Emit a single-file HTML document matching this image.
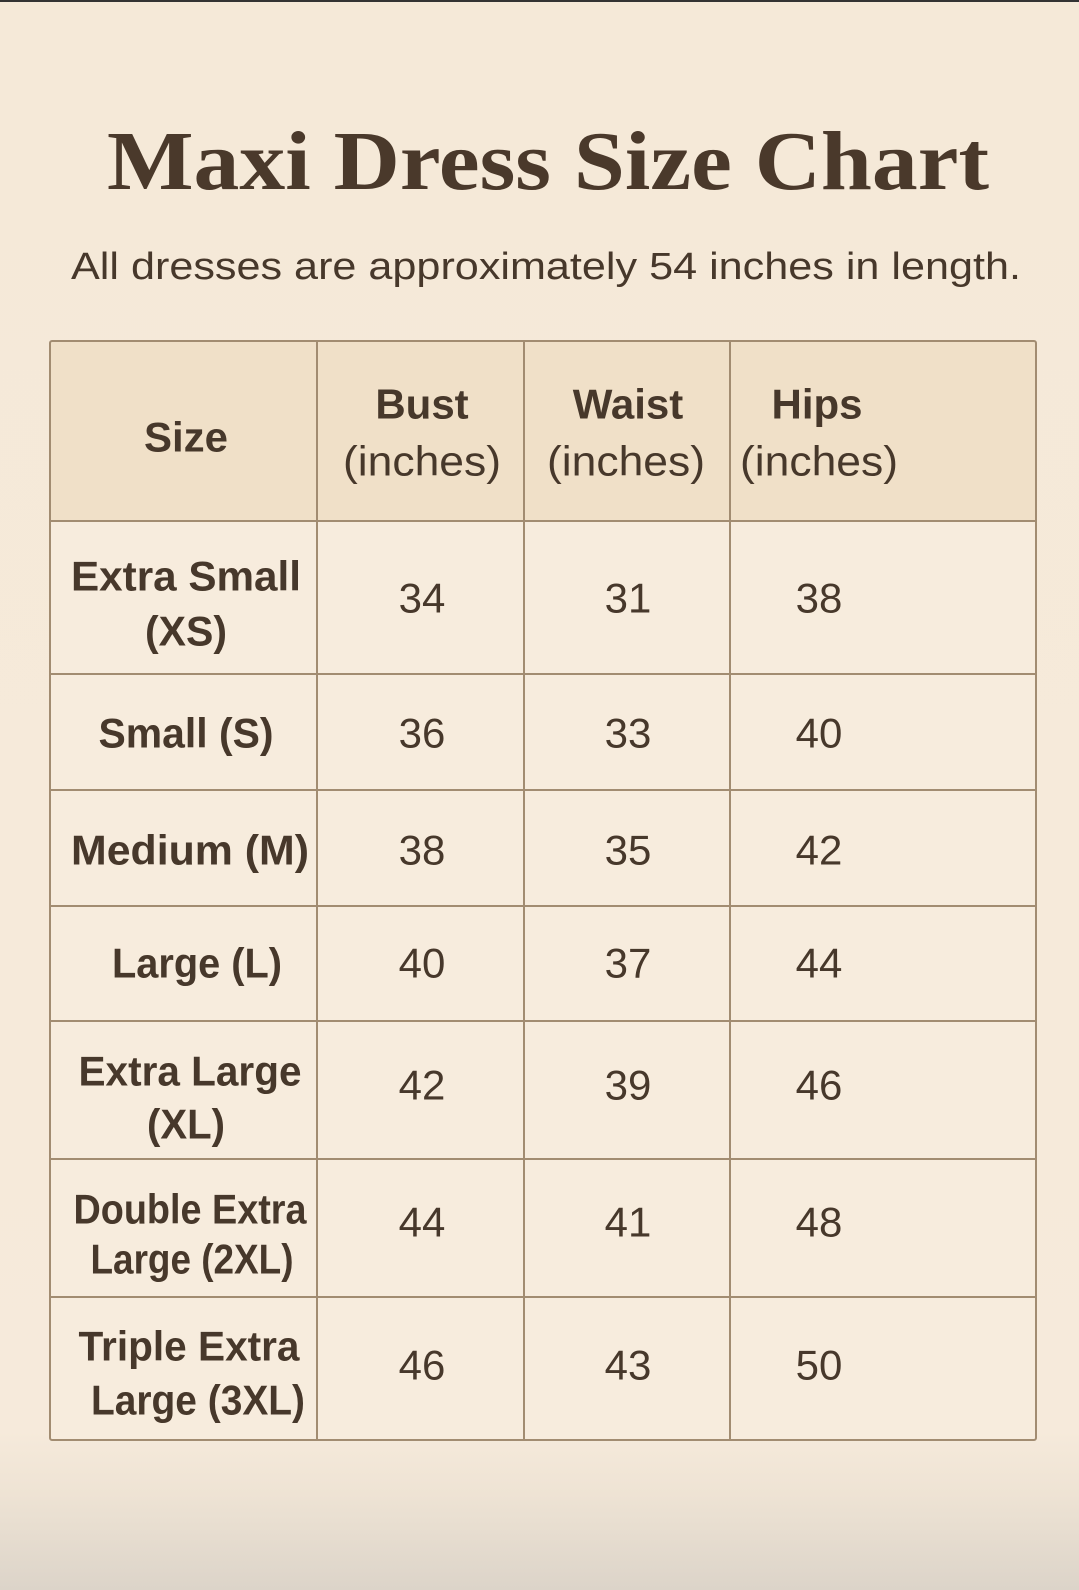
<!DOCTYPE html>
<html><head><meta charset="utf-8"><style>
html,body{margin:0;padding:0;width:1079px;height:1590px;overflow:hidden;background:#f6ead9}
svg{display:block}
.s{font-family:"Liberation Sans",sans-serif;fill:#47382b}
.b{font-weight:bold}
</style></head><body>
<svg width="1079" height="1590" viewBox="0 0 1079 1590">
<defs>
<linearGradient id="bg" x1="0" y1="0" x2="0" y2="1">
<stop offset="0" stop-color="#f5e9d8"/><stop offset="0.9" stop-color="#f6eadb"/><stop offset="0.94" stop-color="#eee3d4"/><stop offset="1" stop-color="#dcd4c9"/>
</linearGradient>
</defs>
<rect width="1079" height="1590" fill="url(#bg)"/>
<rect width="1079" height="2" fill="#333"/>
<text x="548" y="189" text-anchor="middle" font-family="Liberation Serif,serif" font-weight="bold" font-size="84" fill="#4a392b" textLength="882" lengthAdjust="spacingAndGlyphs">Maxi Dress Size Chart</text>
<text class="s" x="71" y="279" font-size="38" textLength="950" lengthAdjust="spacingAndGlyphs">All dresses are approximately 54 inches in length.</text>
<rect x="50" y="341" width="986" height="180" fill="#f0e0c8"/>
<rect x="50" y="521" width="986" height="919" fill="#f7ecdd"/>
<g stroke="#a28c71" stroke-width="2" fill="none">
<rect x="50" y="341" width="986" height="1099" rx="2"/>
<line x1="317" y1="341" x2="317" y2="1440"/>
<line x1="524" y1="341" x2="524" y2="1440"/>
<line x1="730" y1="341" x2="730" y2="1440"/>
<line x1="50" y1="521" x2="1036" y2="521"/>
<line x1="50" y1="674" x2="1036" y2="674"/>
<line x1="50" y1="790" x2="1036" y2="790"/>
<line x1="50" y1="906" x2="1036" y2="906"/>
<line x1="50" y1="1021" x2="1036" y2="1021"/>
<line x1="50" y1="1159" x2="1036" y2="1159"/>
<line x1="50" y1="1297" x2="1036" y2="1297"/>
</g>
<g class="s" font-size="42" text-anchor="middle" dominant-baseline="central">
<text class="b" x="186" y="437">Size</text>
<text class="b" x="422" y="404">Bust</text>
<text x="422" y="461" textLength="158" lengthAdjust="spacingAndGlyphs">(inches)</text>
<text class="b" x="628" y="404">Waist</text>
<text x="626" y="461" textLength="158" lengthAdjust="spacingAndGlyphs">(inches)</text>
<text class="b" x="817" y="404">Hips</text>
<text x="819" y="461" textLength="158" lengthAdjust="spacingAndGlyphs">(inches)</text>

<text class="b" x="186" y="576" textLength="230" lengthAdjust="spacingAndGlyphs">Extra Small</text>
<text class="b" x="186" y="631" textLength="82" lengthAdjust="spacingAndGlyphs">(XS)</text>
<text class="b" x="186" y="733" textLength="175" lengthAdjust="spacingAndGlyphs">Small (S)</text>
<text class="b" x="190" y="850" textLength="238" lengthAdjust="spacingAndGlyphs">Medium (M)</text>
<text class="b" x="197" y="963" textLength="170" lengthAdjust="spacingAndGlyphs">Large (L)</text>
<text class="b" x="190" y="1071" textLength="223" lengthAdjust="spacingAndGlyphs">Extra Large</text>
<text class="b" x="186" y="1124" textLength="78" lengthAdjust="spacingAndGlyphs">(XL)</text>
<text class="b" x="190" y="1209" textLength="233" lengthAdjust="spacingAndGlyphs">Double Extra</text>
<text class="b" x="192" y="1259" textLength="203" lengthAdjust="spacingAndGlyphs">Large (2XL)</text>
<text class="b" x="189" y="1346" textLength="221" lengthAdjust="spacingAndGlyphs">Triple Extra</text>
<text class="b" x="198" y="1400" textLength="214" lengthAdjust="spacingAndGlyphs">Large (3XL)</text>

<text x="422" y="598">34</text><text x="628" y="598">31</text><text x="819" y="598">38</text>
<text x="422" y="733">36</text><text x="628" y="733">33</text><text x="819" y="733">40</text>
<text x="422" y="850">38</text><text x="628" y="850">35</text><text x="819" y="850">42</text>
<text x="422" y="963">40</text><text x="628" y="963">37</text><text x="819" y="963">44</text>
<text x="422" y="1085">42</text><text x="628" y="1085">39</text><text x="819" y="1085">46</text>
<text x="422" y="1222">44</text><text x="628" y="1222">41</text><text x="819" y="1222">48</text>
<text x="422" y="1365">46</text><text x="628" y="1365">43</text><text x="819" y="1365">50</text>
</g>
</svg>
</body></html>
